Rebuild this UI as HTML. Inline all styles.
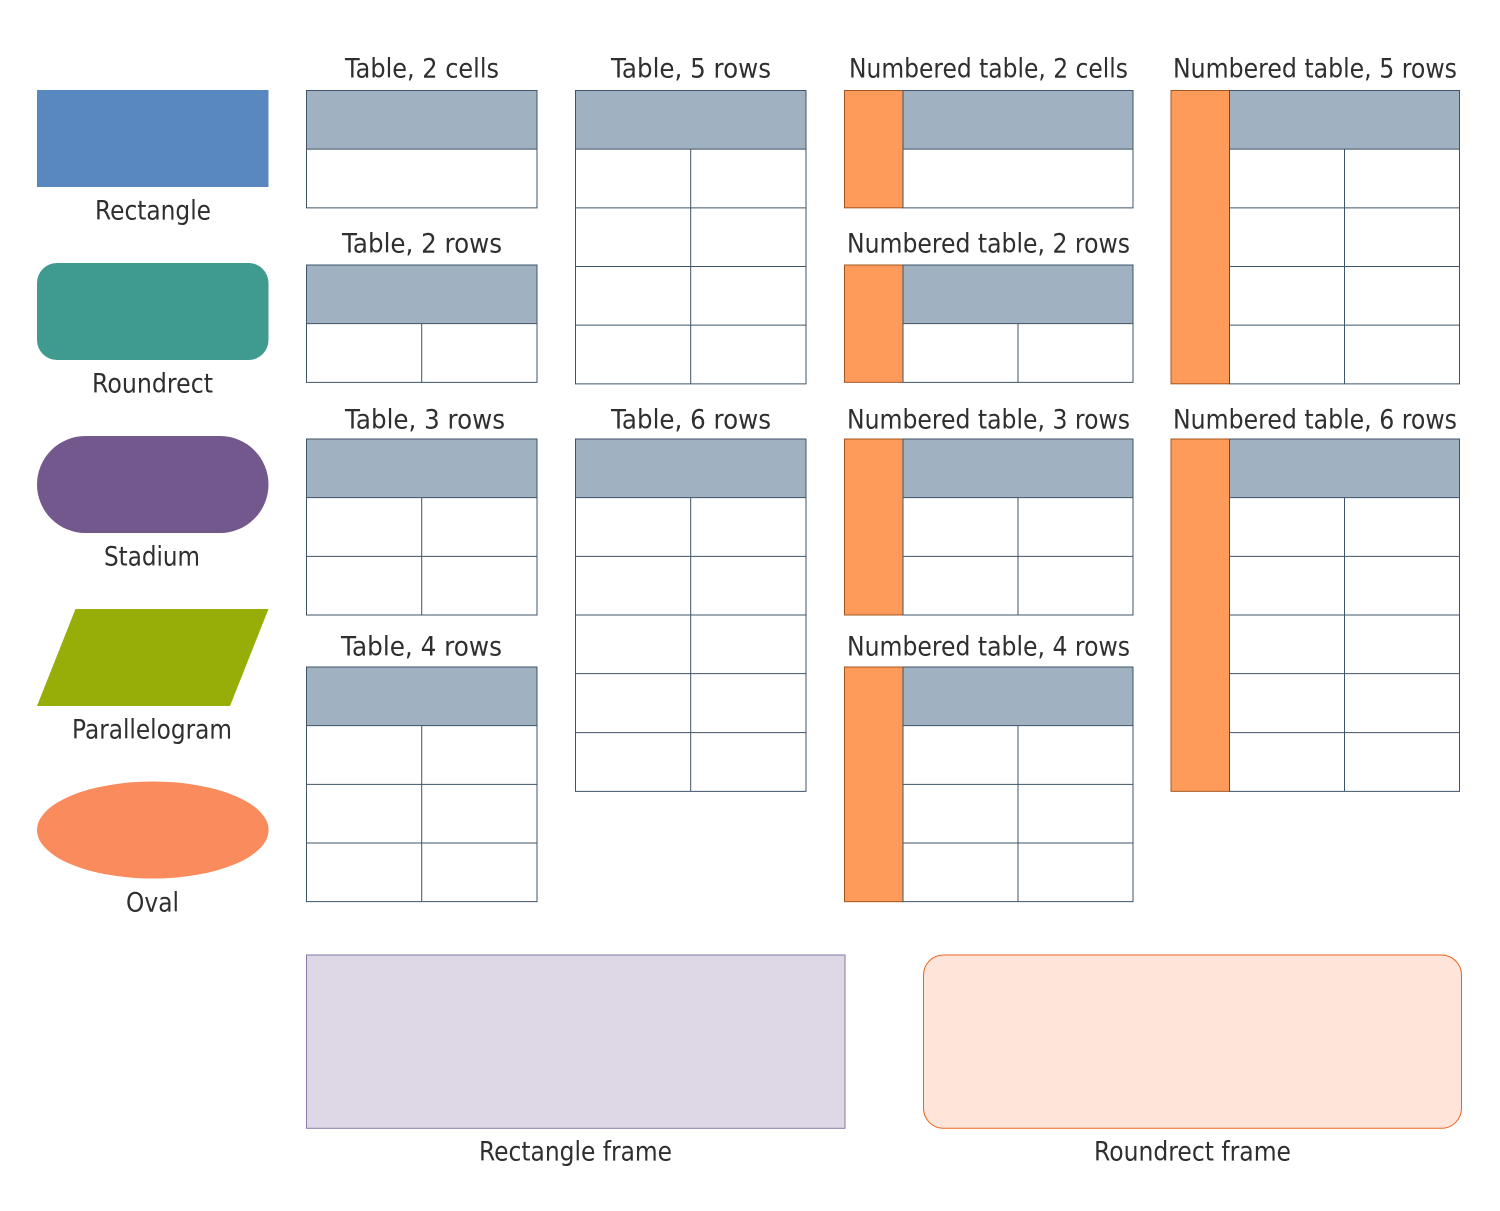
<!DOCTYPE html>
<html>
<head>
<meta charset="utf-8">
<style>
html,body{margin:0;padding:0;background:#fff;}
svg{display:block;}
text{font-family:"DejaVu Sans",sans-serif;font-size:26.5px;fill:#2f2f2f;}
.h{fill:#a0b2c2;stroke:none;}
.n{fill:#fe9b5b;stroke:#a4551f;stroke-width:1;}
.g{fill:none;stroke:#3f5468;stroke-width:1;}
</style>
</head>
<body>
<svg width="1500" height="1211" viewBox="0 0 1500 1211" xmlns="http://www.w3.org/2000/svg">
<!-- basic shapes -->
<rect x="37" y="90" width="231.500" height="97" fill="#5888bf"/>
<text x="95" y="219.500" textLength="116" lengthAdjust="spacingAndGlyphs">Rectangle</text>
<rect x="37" y="263" width="231.500" height="97" rx="20" ry="20" fill="#3f9a90"/>
<text x="92" y="392.500" textLength="121" lengthAdjust="spacingAndGlyphs">Roundrect</text>
<rect x="37" y="436" width="231.500" height="97" rx="48.500" ry="48.500" fill="#72588c"/>
<text x="104" y="565.500" textLength="96" lengthAdjust="spacingAndGlyphs">Stadium</text>
<polygon points="75.500,609 268.500,609 230,706 37,706" fill="#97ad08"/>
<text x="72" y="738.500" textLength="160" lengthAdjust="spacingAndGlyphs">Parallelogram</text>
<ellipse cx="152.800" cy="830" rx="115.800" ry="48.500" fill="#f98b5d"/>
<text x="126" y="911.500" textLength="53" lengthAdjust="spacingAndGlyphs">Oval</text>

<!-- Table, 2 cells -->
<text x="345" y="77.500" textLength="154" lengthAdjust="spacingAndGlyphs">Table, 2 cells</text>
<rect class="h" x="306.500" y="90.500" width="230.500" height="58.670"/>
<path class="g" d="M306.500 90.500H537V207.830H306.500ZM306.500 149.170H537"/>

<!-- Table, 2 rows -->
<text x="342" y="252.500" textLength="160" lengthAdjust="spacingAndGlyphs">Table, 2 rows</text>
<rect class="h" x="306.500" y="265" width="230.500" height="58.670"/>
<path class="g" d="M306.500 265H537V382.330H306.500ZM306.500 323.670H537M421.700 323.670V382.330"/>

<!-- Table, 3 rows -->
<text x="345" y="428.500" textLength="160" lengthAdjust="spacingAndGlyphs">Table, 3 rows</text>
<rect class="h" x="306.500" y="439" width="230.500" height="58.670"/>
<path class="g" d="M306.500 439H537V615H306.500ZM306.500 497.670H537M306.500 556.330H537M421.700 497.670V615"/>

<!-- Table, 4 rows -->
<text x="341" y="655.500" textLength="161" lengthAdjust="spacingAndGlyphs">Table, 4 rows</text>
<rect class="h" x="306.500" y="667" width="230.500" height="58.670"/>
<path class="g" d="M306.500 667H537V901.670H306.500ZM306.500 725.670H537M306.500 784.330H537M306.500 843H537M421.700 725.670V901.670"/>

<!-- Table, 5 rows -->
<text x="611" y="77.500" textLength="160" lengthAdjust="spacingAndGlyphs">Table, 5 rows</text>
<rect class="h" x="575.500" y="90.500" width="230.500" height="58.670"/>
<path class="g" d="M575.500 90.500H806V383.830H575.500ZM575.500 149.170H806M575.500 207.830H806M575.500 266.500H806M575.500 325.170H806M690.700 149.170V383.830"/>

<!-- Table, 6 rows -->
<text x="611" y="428.500" textLength="160" lengthAdjust="spacingAndGlyphs">Table, 6 rows</text>
<rect class="h" x="575.500" y="439" width="230.500" height="58.670"/>
<path class="g" d="M575.500 439H806V791.330H575.500ZM575.500 497.670H806M575.500 556.330H806M575.500 615H806M575.500 673.670H806M575.500 732.670H806M690.700 497.670V791.330"/>

<!-- Numbered table, 2 cells -->
<text x="849" y="77.500" textLength="279" lengthAdjust="spacingAndGlyphs">Numbered table, 2 cells</text>
<rect class="n" x="844.500" y="90.500" width="58.500" height="117.330"/>
<rect class="h" x="903" y="90.500" width="230" height="58.670"/>
<path class="g" d="M903 90.500H1133V207.830H903ZM903 149.170H1133"/>

<!-- Numbered table, 2 rows -->
<text x="847" y="252.500" textLength="283" lengthAdjust="spacingAndGlyphs">Numbered table, 2 rows</text>
<rect class="n" x="844.500" y="265" width="58.500" height="117.330"/>
<rect class="h" x="903" y="265" width="230" height="58.670"/>
<path class="g" d="M903 265H1133V382.330H903ZM903 323.670H1133M1018 323.670V382.330"/>

<!-- Numbered table, 3 rows -->
<text x="847" y="428.500" textLength="283" lengthAdjust="spacingAndGlyphs">Numbered table, 3 rows</text>
<rect class="n" x="844.500" y="439" width="58.500" height="176"/>
<rect class="h" x="903" y="439" width="230" height="58.670"/>
<path class="g" d="M903 439H1133V615H903ZM903 497.670H1133M903 556.330H1133M1018 497.670V615"/>

<!-- Numbered table, 4 rows -->
<text x="847" y="655.500" textLength="283" lengthAdjust="spacingAndGlyphs">Numbered table, 4 rows</text>
<rect class="n" x="844.500" y="667" width="58.500" height="234.670"/>
<rect class="h" x="903" y="667" width="230" height="58.670"/>
<path class="g" d="M903 667H1133V901.670H903ZM903 725.670H1133M903 784.330H1133M903 843H1133M1018 725.670V901.670"/>

<!-- Numbered table, 5 rows -->
<text x="1173" y="77.500" textLength="284" lengthAdjust="spacingAndGlyphs">Numbered table, 5 rows</text>
<rect class="n" x="1171" y="90.500" width="58.500" height="293.330"/>
<rect class="h" x="1229.500" y="90.500" width="230" height="58.670"/>
<path class="g" d="M1229.500 90.500H1459.500V383.830H1229.500ZM1229.500 149.170H1459.500M1229.500 207.830H1459.500M1229.500 266.500H1459.500M1229.500 325.170H1459.500M1344.500 149.170V383.830"/>

<!-- Numbered table, 6 rows -->
<text x="1173" y="428.500" textLength="284" lengthAdjust="spacingAndGlyphs">Numbered table, 6 rows</text>
<rect class="n" x="1171" y="439" width="58.500" height="352.330"/>
<rect class="h" x="1229.500" y="439" width="230" height="58.670"/>
<path class="g" d="M1229.500 439H1459.500V791.330H1229.500ZM1229.500 497.670H1459.500M1229.500 556.330H1459.500M1229.500 615H1459.500M1229.500 673.670H1459.500M1229.500 732.670H1459.500M1344.500 497.670V791.330"/>

<!-- frames -->
<rect x="306.500" y="955" width="538.500" height="173.300" fill="#ded8e6" stroke="#8a78a8" stroke-width="1"/>
<text x="479" y="1160.500" textLength="193" lengthAdjust="spacingAndGlyphs">Rectangle frame</text>
<rect x="923.500" y="955" width="538" height="173.300" rx="20" ry="20" fill="#ffe5d9" stroke="#e8651f" stroke-width="1"/>
<text x="1094" y="1160.500" textLength="197" lengthAdjust="spacingAndGlyphs">Roundrect frame</text>
</svg>
</body>
</html>
